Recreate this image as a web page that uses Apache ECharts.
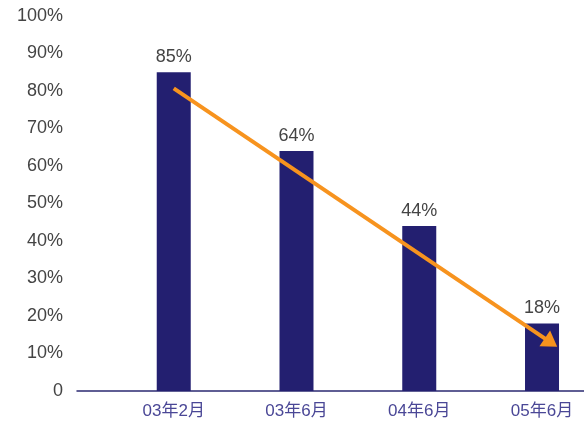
<!DOCTYPE html>
<html><head><meta charset="utf-8">
<script src="https://cdn.jsdelivr.net/npm/echarts@6/dist/echarts.min.js"></script>
<style>html,body{margin:0;padding:0;background:#fff}#c{width:584px;height:421px}</style>
</head><body><div id="c"></div>
<script>
var categories = ['03年2月', '03年6月', '04年6月', '05年6月'];
var values = [85, 64, 44, 18];
var yTicks = [0, 10, 20, 30, 40, 50, 60, 70, 80, 90, 100];
var arrowStart = [0, 80.7];
var arrowEnd = [3.073, 12.9];

var chart = echarts.init(document.getElementById('c'));
chart.setOption({
  animation: false,
  grid: {left: 77, right: 0, top: 16, bottom: 30, containLabel: false},
  xAxis: {
    type: 'value', min: -0.788, max: 3.342,
    splitLine: {show: false},
    axisLine: {show: true, lineStyle: {color: '#2b2a72', width: 1.5}},
    axisTick: {show: false},
    axisLabel: {
      customValues: [0, 1, 2, 3],
      formatter: function (v) { return categories[Math.round(v)]; },
      color: '#4a4796', fontSize: 17, margin: 12,
      fontFamily: 'Liberation Sans, Noto Sans CJK SC, sans-serif'
    }
  },
  yAxis: {
    type: 'value', min: 0, max: 100, interval: 10,
    splitLine: {show: false},
    axisLine: {show: false},
    axisTick: {show: false},
    axisLabel: {
      formatter: function (v) { return v === 0 ? '0' : v + '%'; },
      color: '#444444', fontSize: 18, margin: 14,
      fontFamily: 'Liberation Sans, sans-serif'
    }
  },
  series: [{
    type: 'bar',
    data: values.map(function (v, i) { return [i, v]; }),
    barWidth: 34,
    itemStyle: {color: '#231f70'},
    label: {
      show: true, position: 'top', distance: 6,
      formatter: function (p) { return p.value[1] + '%'; },
      color: '#444444', fontSize: 18,
      fontFamily: 'Liberation Sans, sans-serif'
    },
    markLine: {
      silent: true,
      symbol: ['none', 'triangle'],
      symbolSize: [19, 15],
      label: {show: false},
      lineStyle: {color: '#f7931e', width: 4, type: 'solid'},
      data: [[{coord: arrowStart}, {coord: arrowEnd}]]
    }
  }]
});
</script></body></html>
